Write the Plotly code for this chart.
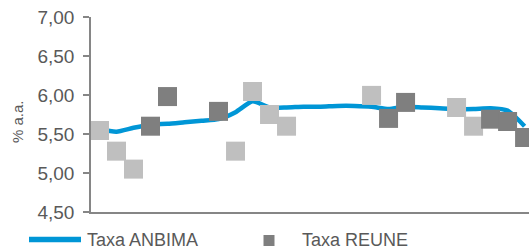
import plotly.graph_objects as go

# ---- data ----
positions = list(range(26))
taxa_anbima = [5.56, 5.53, 5.58, 5.62, 5.63, 5.65, 5.67, 5.69, 5.78, 5.92,
               5.84, 5.84, 5.85, 5.85, 5.86, 5.86, 5.85, 5.82, 5.85, 5.84,
               5.83, 5.82, 5.82, 5.83, 5.80, 5.60]
light_idx = [0, 1, 2, 8, 9, 10, 11, 16, 21, 22]
light_val = [5.545, 5.28, 5.05, 5.28, 6.045, 5.75, 5.60, 5.995, 5.84, 5.60]
reune_idx = [3, 4, 7, 17, 18, 23, 24, 25]
reune_val = [5.60, 5.98, 5.79, 5.70, 5.905, 5.69, 5.66, 5.455]
y_ticks = [4.5, 5.0, 5.5, 6.0, 6.5, 7.0]
series_names = ["Taxa ANBIMA", "Taxa REUNE"]
y_title = "% a.a."

BLUE = "#0096D6"
LIGHT = "#BFBFBF"
DARK = "#7F7F7F"
TEXT = "#595959"
AXIS = "#868686"
FONT = "Liberation Sans, Arial, sans-serif"

W, H = 529, 249
L, R, T, B = 91, 0, 17, 37
pw, ph = W - L - R, H - T - B

def px_x(px):
    return (px - L) / pw

def px_y(py):
    return (H - B - py) / ph

fig = go.Figure()
fig.add_trace(go.Scatter(x=positions, y=taxa_anbima, mode="lines",
                         line=dict(color=BLUE, width=4.5, shape="spline", smoothing=0.6),
                         name=series_names[0], showlegend=False, hoverinfo="skip"))
fig.add_trace(go.Scatter(x=light_idx, y=light_val, mode="markers",
                         marker=dict(symbol="square", size=19, color=LIGHT, line=dict(width=0)),
                         showlegend=False, cliponaxis=True))
fig.add_trace(go.Scatter(x=reune_idx, y=reune_val, mode="markers",
                         marker=dict(symbol="square", size=19, color=DARK, line=dict(width=0)),
                         name=series_names[1], showlegend=False, cliponaxis=True))

# custom legend
fig.add_shape(type="line", xref="paper", yref="paper",
              x0=px_x(29), x1=px_x(81), y0=px_y(239.5), y1=px_y(239.5),
              line=dict(color=BLUE, width=5.5))
fig.add_shape(type="rect", xref="paper", yref="paper",
              x0=px_x(263.5), x1=px_x(274.5), y0=px_y(235), y1=px_y(246),
              fillcolor=DARK, line=dict(width=0))
fig.add_annotation(xref="paper", yref="paper", x=px_x(85), y=px_y(240),
                   xanchor="left", yanchor="middle", text=series_names[0],
                   showarrow=False, font=dict(family=FONT, size=18, color=TEXT))
fig.add_annotation(xref="paper", yref="paper", x=px_x(300), y=px_y(240),
                   xanchor="left", yanchor="middle", text=series_names[1],
                   showarrow=False, font=dict(family=FONT, size=18, color=TEXT))
fig.add_annotation(xref="paper", yref="paper", x=px_x(17), y=px_y(122),
                   xanchor="center", yanchor="middle", text=y_title, textangle=-90,
                   showarrow=False, font=dict(family=FONT, size=15, color=TEXT))

fig.update_layout(
    width=W, height=H, autosize=False,
    margin=dict(l=L, r=R, t=T, b=B, pad=0),
    paper_bgcolor="white", plot_bgcolor="white",
    separators=",.",
    showlegend=False,
    font=dict(family=FONT, size=18, color=TEXT),
)
fig.update_xaxes(range=[-0.5, 25.26], showgrid=False, zeroline=False,
                 showticklabels=False, ticks="", showline=True,
                 linecolor=AXIS, linewidth=1.5)
fig.update_yaxes(range=[4.5, 7.0], tickvals=y_ticks, tickformat=".2f",
                 showgrid=False, zeroline=False, showline=True,
                 linecolor=AXIS, linewidth=1.5, ticks="outside", ticklen=6,
                 tickcolor=AXIS, tickwidth=1.5, ticklabelstandoff=5,
                 tickfont=dict(family=FONT, size=19, color=TEXT))

fig.write_html("out.html", config={"displayModeBar": False},
               post_script="document.body.style.margin='0';document.body.style.overflow='hidden';")
